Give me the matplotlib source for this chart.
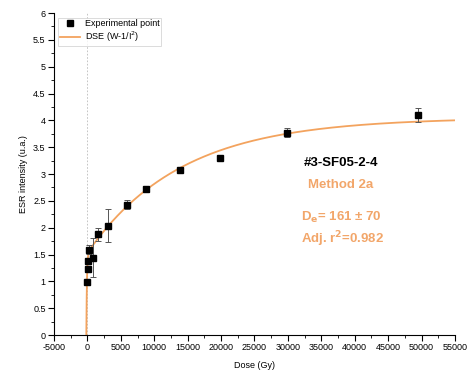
import numpy as np
import matplotlib
matplotlib.use('Agg')
import matplotlib.pyplot as plt
from matplotlib.lines import Line2D
from matplotlib.ticker import MultipleLocator, FuncFormatter

plt.rcParams['font.family'] = ['Liberation Sans', 'DejaVu Sans']
plt.rcParams['axes.unicode_minus'] = False

# 實驗點 (劑量, ESR 強度, 誤差)
dose = [0, 50, 150, 300, 800, 1560, 3130, 6000, 8800, 13800, 19800, 29800, 49400]
intensity = [0.98, 1.23, 1.37, 1.59, 1.44, 1.88, 2.04, 2.43, 2.72, 3.07, 3.29, 3.77, 4.10]
errors = [0.04, 0.05, 0.05, 0.08, 0.36, 0.12, 0.31, 0.08, 0.05, 0.04, 0.03, 0.08, 0.13]

# DSE 擬合參數 (雙飽和指數)
de = 161
a1, d1 = 1.50, 90
a2, d2 = 2.55, 14000

orange = '#F3A35E'
text_orange = '#F2A66A'


def dse(d):
    """雙飽和指數模型"""
    return a1 * (1 - np.exp(-(d + de) / d1)) + a2 * (1 - np.exp(-(d + de) / d2))


fig = plt.figure(figsize=(4.71, 3.83), dpi=100)
ax = fig.add_axes([0.1146, 0.1253, 0.8514, 0.8407])

ax.axvline(0, color='#bbbbbb', lw=0.6, ls=(0, (2, 2)), zorder=0)

xs = np.linspace(-de, 55000, 4000)
ax.plot(xs, dse(xs), color=orange, lw=1.3, zorder=2)

ax.errorbar(dose, intensity, yerr=errors, fmt='s', color='black', ms=5,
            ecolor='#555555', elinewidth=0.7, capsize=2.5, capthick=0.7, zorder=3)

ax.set_xlim(-5000, 55000)
ax.set_ylim(0, 6)
ax.xaxis.set_major_locator(MultipleLocator(5000))
ax.xaxis.set_minor_locator(MultipleLocator(2500))
ax.yaxis.set_major_locator(MultipleLocator(0.5))
ax.yaxis.set_minor_locator(MultipleLocator(0.25))
ax.yaxis.set_major_formatter(FuncFormatter(lambda v, p: f'{v:g}'))
ax.tick_params(which='major', direction='out', length=4, width=0.8, labelsize=6.5, pad=2)
ax.tick_params(which='minor', direction='out', length=2, width=0.6)
for s in ['top', 'right']:
    ax.spines[s].set_visible(False)

ax.set_xlabel('Dose (Gy)', fontsize=6.5, labelpad=6)
ax.set_ylabel('ESR intensity (u.a.)', fontsize=6.5, labelpad=4)

handles = [Line2D([], [], marker='s', ls='none', color='black', ms=5),
           Line2D([], [], color=orange, lw=1.3)]
labels = ['Experimental point', 'DSE (W-1/I$^2$)']
leg = ax.legend(handles, labels, loc='upper left', fontsize=6.5,
                frameon=True, fancybox=False, edgecolor='#cccccc',
                borderpad=0.2, handlelength=2.2, labelspacing=0.15,
                handletextpad=0.5, bbox_to_anchor=(0.0, 1.0))
leg.get_frame().set_linewidth(0.6)

ax.text(0.715, 0.525, '#3-SF05-2-4', transform=ax.transAxes, ha='center',
        fontsize=9.5, fontweight='bold', color='black')
ax.text(0.715, 0.458, 'Method 2a', transform=ax.transAxes, ha='center',
        fontsize=9.5, fontweight='bold', color=text_orange)
ax.text(0.615, 0.355, 'D$_\\mathbf{e}$= 161 ± 70', transform=ax.transAxes, ha='left',
        fontsize=9.5, fontweight='bold', color=text_orange)
ax.text(0.615, 0.285, 'Adj. r$^\\mathbf{2}$=0.982', transform=ax.transAxes, ha='left',
        fontsize=9.5, fontweight='bold', color=text_orange)

fig.savefig('out.png', dpi=100)
